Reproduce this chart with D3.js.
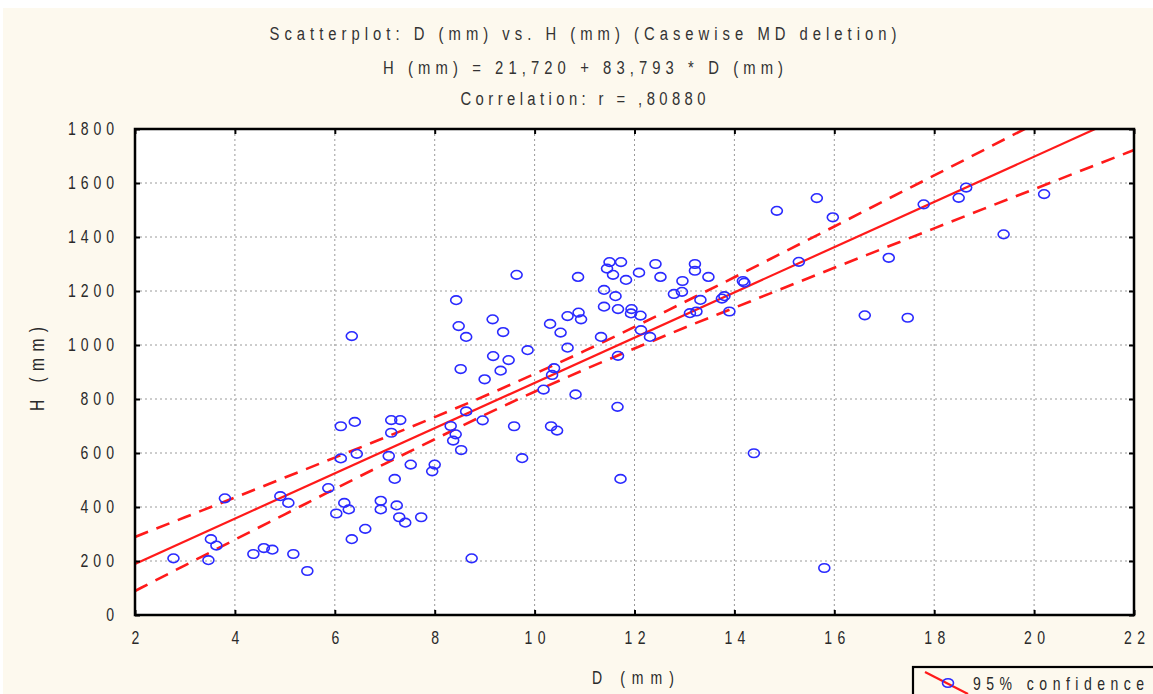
<!DOCTYPE html>
<html><head><meta charset="utf-8">
<script src="https://cdn.jsdelivr.net/npm/d3@7"></script>
<style>html,body{margin:0;padding:0;background:#fff;} svg{display:block;}</style>
</head><body><svg id="c" width="1153" height="694"></svg>
<script>
// ---------- data ----------
const titleLines = ["Scatterplot: D (mm) vs. H (mm) (Casewise MD deletion)",
                    "H (mm) = 21,720 + 83,793 * D (mm)",
                    "Correlation: r = ,80880"];
const xLabel = "D (mm)";
const yLabel = "H (mm)";
const legendLabel = "95% confidence";
const xTicks = [2,4,6,8,10,12,14,16,18,20,22];
const yTicks = [0,200,400,600,800,1000,1200,1400,1600,1800];
const regIntercept = 21.720;
const regSlope = 83.793;
const dValues = [2.77,3.47,3.52,3.63,3.80,4.37,4.58,4.75,4.91,5.07,5.17,5.45,5.87,6.03,6.12,6.12,6.19,6.28,6.34,6.40,6.44,6.34,6.61,6.92,6.92,7.08,7.13,7.31,7.13,7.20,7.24,7.29,7.41,7.52,7.73,7.95,8.00,8.32,8.42,8.37,8.53,8.52,8.43,8.48,8.63,8.63,8.74,8.96,9.00,9.16,9.17,9.32,9.37,9.48,9.59,9.64,9.75,9.86,10.18,10.31,10.39,10.35,10.33,10.45,10.52,10.66,10.66,10.82,10.88,10.87,10.93,11.33,11.39,11.39,11.50,11.45,11.57,11.62,11.67,11.67,11.66,11.73,11.72,11.83,11.94,11.93,12.12,12.09,12.13,12.31,12.42,12.52,12.79,12.95,12.96,13.11,13.21,13.21,13.32,13.24,13.48,13.75,13.80,13.90,14.17,14.20,14.39,14.85,15.29,15.65,15.80,15.97,16.61,17.09,17.47,17.79,18.49,18.64,19.39,20.20];
const hValues = [210,203,281,257,432,226,248,242,440,415,226,163,470,376,699,580,415,391,281,715,597,1033,319,423,391,589,722,722,675,504,406,362,342,557,362,532,557,700,669,646,611,911,1166,1070,1030,754,210,721,873,1095,959,905,1048,944,699,1260,581,981,835,1078,914,889,699,683,1046,990,1107,817,1120,1252,1095,1030,1204,1142,1307,1283,1260,1181,1133,960,771,1307,504,1241,1133,1117,1109,1268,1055,1030,1300,1252,1189,1197,1237,1118,1300,1275,1167,1124,1252,1172,1181,1124,1237,1231,599,1497,1308,1544,174,1473,1110,1323,1101,1521,1545,1583,1410,1559];
const bandD = [2,3,4,5,6,7,8,9,10,11,12,13,14,15,16,17,18,19,20,21,22];
const bandUpper = [289,362,435,509,583,657,733,811,893,978,1067,1159,1251,1345,1439,1534,1628,1723,1818,1913,2008];
const bandLower = [89,184,279,373,467,560,651,741,827,909,987,1064,1138,1212,1286,1359,1432,1505,1577,1650,1722];

// ---------- layout ----------
const svg = d3.select("#c");
const W = 1153, H = 694;
const L = 135, R = 1134, T = 129, B = 615;
const FONT = "'Liberation Sans',Arial,sans-serif";
const SX = 0.78; // horizontal condensing of glyphs (narrow look)
const RED = "#ff1a1a", BLUE = "#2a2aff", TXT = "#2a2a2a";

svg.append("rect").attr("width", W).attr("height", H).attr("fill", "#ffffff");
svg.append("rect").attr("x", 3).attr("y", 8).attr("width", W - 3).attr("height", H - 8).attr("fill", "#fdf9ee");

const x = d3.scaleLinear().domain([2, 22]).range([L, R]);
const y = d3.scaleLinear().domain([0, 1800]).range([B, T]);

svg.append("rect").attr("x", L).attr("y", T).attr("width", R - L).attr("height", B - T).attr("fill", "#ffffff");

// narrow, letter-spaced text helper
function narrowText(parent, px, py, str, size, len, anchor, rot, fill) {
  const g = parent.append("g").attr("transform", `translate(${px},${py})` + (rot ? ` rotate(${rot})` : ""));
  return g.append("text").attr("transform", `scale(${SX},1)`)
    .attr("text-anchor", anchor || "start").attr("font-family", FONT).attr("font-size", size)
    .attr("fill", fill || TXT).attr("textLength", len / SX).attr("lengthAdjust", "spacing").text(str);
}

// titles
const titleY = [40, 74, 105];
const titleLen = [627, 400, 245];
titleLines.forEach((t, i) => narrowText(svg, 583, titleY[i], t, 19, titleLen[i], "middle", 0, "#333"));

// grid
const grid = svg.append("g").attr("stroke", "#9a9a9a").attr("stroke-width", 1).attr("stroke-dasharray", "2,3");
grid.selectAll("line.gx").data(xTicks.slice(1, -1)).join("line")
  .attr("x1", d => x(d)).attr("x2", d => x(d)).attr("y1", T).attr("y2", B);
grid.selectAll("line.gy").data(yTicks.slice(1, -1)).join("line")
  .attr("y1", d => y(d)).attr("y2", d => y(d)).attr("x1", L).attr("x2", R);

// clip
svg.append("clipPath").attr("id", "clip").append("rect")
  .attr("x", L).attr("y", T).attr("width", R - L).attr("height", B - T);
const plot = svg.append("g").attr("clip-path", "url(#clip)");

// confidence bands
const bandLine = (arr) => d3.line().x((d, i) => x(bandD[i])).y(d => y(d)).curve(d3.curveMonotoneX)(arr);
[bandUpper, bandLower].forEach(arr => {
  plot.append("path").attr("d", bandLine(arr)).attr("fill", "none")
    .attr("stroke", RED).attr("stroke-width", 2.6).attr("stroke-dasharray", "14,9");
});
// regression line
plot.append("line")
  .attr("x1", x(2)).attr("y1", y(regIntercept + regSlope * 2))
  .attr("x2", x(22)).attr("y2", y(regIntercept + regSlope * 22))
  .attr("stroke", RED).attr("stroke-width", 2.2);

// points
plot.selectAll("ellipse.pt").data(dValues).join("ellipse")
  .attr("cx", d => x(d)).attr("cy", (d, i) => y(hValues[i]))
  .attr("rx", 5.5).attr("ry", 4.3).attr("fill", "none")
  .attr("stroke", BLUE).attr("stroke-width", 1.6);

// axes
const labLen = s => (String(s).length - 1) * 12.5 + 8.5;
const styleText = g => g.selectAll("text").attr("font-family", FONT).attr("font-size", 18)
  .attr("fill", TXT).attr("lengthAdjust", "spacing")
  .attr("transform", `scale(${SX},1)`)
  .attr("x", function() { return (+d3.select(this).attr("x") || 0) / SX; })
  .attr("textLength", function() { return labLen(this.textContent) / SX; });

const ax = svg.append("g").attr("transform", `translate(0,${B})`)
  .call(d3.axisBottom(x).tickValues(xTicks).tickFormat(d3.format("d")).tickSize(-5).tickPadding(16));
const ay = svg.append("g").attr("transform", `translate(${L},0)`)
  .call(d3.axisLeft(y).tickValues(yTicks).tickFormat(d3.format("d")).tickSize(-5).tickPadding(21));
const at = svg.append("g").attr("transform", `translate(0,${T})`)
  .call(d3.axisTop(x).tickValues(xTicks).tickFormat("").tickSize(-5));
const ar = svg.append("g").attr("transform", `translate(${R},0)`)
  .call(d3.axisRight(y).tickValues(yTicks).tickFormat("").tickSize(-5));
[ax, ay, at, ar].forEach(g => {
  g.select(".domain").remove();
  g.selectAll(".tick line").attr("stroke", "#000").attr("stroke-width", 2);
});
styleText(ax); styleText(ay);

// frame
svg.append("rect").attr("x", L).attr("y", T).attr("width", R - L).attr("height", B - T)
  .attr("fill", "none").attr("stroke", "#000").attr("stroke-width", 2.5);

// axis titles
narrowText(svg, 633, 684, xLabel, 18, 82, "middle");
narrowText(svg, 44, 369, yLabel, 20, 84, "middle", -90);

// legend
const lg = svg.append("g");
lg.append("rect").attr("x", 913).attr("y", 667).attr("width", 300).attr("height", 60)
  .attr("fill", "#fdf9ee").attr("stroke", "#000").attr("stroke-width", 2.2);
lg.append("line").attr("x1", 925).attr("y1", 672).attr("x2", 968).attr("y2", 694)
  .attr("stroke", RED).attr("stroke-width", 2.2);
lg.append("ellipse").attr("cx", 948).attr("cy", 683).attr("rx", 5.5).attr("ry", 4.3)
  .attr("fill", "none").attr("stroke", BLUE).attr("stroke-width", 1.6);
narrowText(lg, 973, 690, legendLabel, 18, 171, "start");
</script></body></html>
